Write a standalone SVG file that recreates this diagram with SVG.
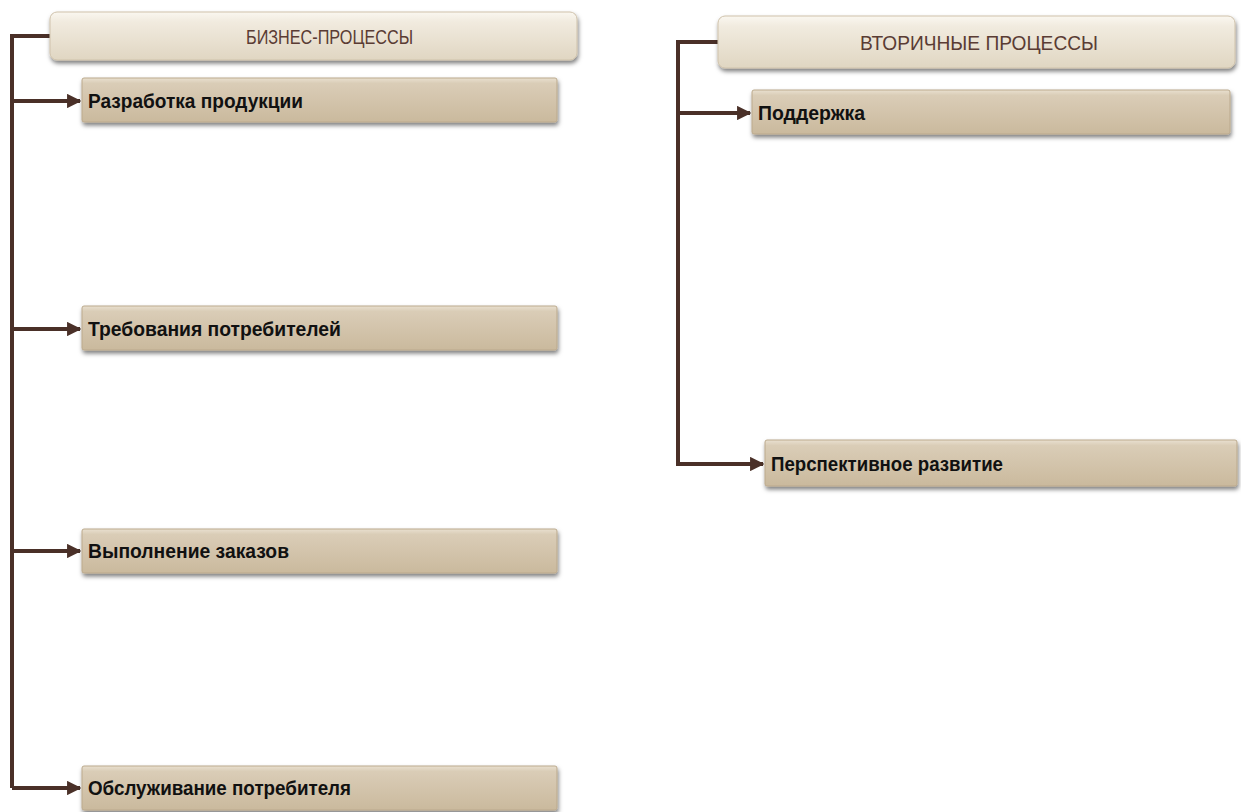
<svg xmlns="http://www.w3.org/2000/svg" width="1241" height="812" viewBox="0 0 1241 812">
<defs>
<linearGradient id="gBox" x1="0" y1="0" x2="0" y2="1">
<stop offset="0" stop-color="#e9e0d0"/>
<stop offset="0.12" stop-color="#dacdb7"/>
<stop offset="1" stop-color="#cab99d"/>
</linearGradient>
<linearGradient id="gHead" x1="0" y1="0" x2="0" y2="1">
<stop offset="0" stop-color="#faf7f0"/>
<stop offset="0.2" stop-color="#f1ebdf"/>
<stop offset="1" stop-color="#e0d6c2"/>
</linearGradient>
<filter id="sh" x="-5%" y="-20%" width="110%" height="160%">
<feDropShadow dx="1" dy="3" stdDeviation="2" flood-color="#000" flood-opacity="0.5"/>
</filter>
<marker id="arr" viewBox="0 0 10 10" refX="9" refY="5" markerWidth="3.6" markerHeight="3.6" orient="auto" markerUnits="strokeWidth">
<path d="M0,0 L10,5 L0,10 z" fill="#4a3028"/>
</marker>
</defs>
<style>
.box{fill:url(#gBox);stroke:#bba98c;stroke-width:1;filter:url(#sh)}
.head{fill:url(#gHead);stroke:#cfc2ab;stroke-width:1;filter:url(#sh)}
.lbl{font-family:"Liberation Sans Narrow","Liberation Sans",sans-serif;font-weight:bold;font-size:21px;fill:#111}
.htxt{font-family:"Liberation Sans Narrow","Liberation Sans",sans-serif;font-size:21px;fill:#5a3c34}
.ln{fill:none;stroke:#4a3028;stroke-width:4}
</style>
<rect width="1241" height="812" fill="#fff"/>
<g id="connectors">
<path class="ln" d="M50,36 H12 V788"/>
<path class="ln" d="M12,101 H80" marker-end="url(#arr)"/>
<path class="ln" d="M12,329 H80" marker-end="url(#arr)"/>
<path class="ln" d="M12,551 H80" marker-end="url(#arr)"/>
<path class="ln" d="M12,788 H80" marker-end="url(#arr)"/>
<path class="ln" d="M718,42 H678 V464 H763" marker-end="url(#arr)"/>
<path class="ln" d="M678,113 H750" marker-end="url(#arr)"/>
</g>
<g id="head1"><rect class="head" x="50" y="12" width="527" height="48" rx="7"/><text class="htxt" x="246" y="44" textLength="167" lengthAdjust="spacingAndGlyphs">БИЗНЕС-ПРОЦЕССЫ</text></g>
<g id="n1"><rect class="box" x="82" y="78" width="475" height="44" rx="2"/><text class="lbl" x="88" y="108" textLength="215" lengthAdjust="spacingAndGlyphs">Разработка продукции</text></g>
<g id="n2"><rect class="box" x="82" y="306" width="475" height="44" rx="2"/><text class="lbl" x="88" y="336" textLength="253" lengthAdjust="spacingAndGlyphs">Требования потребителей</text></g>
<g id="n3"><rect class="box" x="82" y="529" width="475" height="44" rx="2"/><text class="lbl" x="88" y="558" textLength="201" lengthAdjust="spacingAndGlyphs">Выполнение заказов</text></g>
<g id="n4"><rect class="box" x="82" y="766" width="475" height="44" rx="2"/><text class="lbl" x="88" y="795" textLength="263" lengthAdjust="spacingAndGlyphs">Обслуживание потребителя</text></g>
<g id="head2"><rect class="head" x="718" y="16" width="517" height="52" rx="7"/><text class="htxt" x="860" y="50" textLength="238" lengthAdjust="spacingAndGlyphs">ВТОРИЧНЫЕ ПРОЦЕССЫ</text></g>
<g id="n5"><rect class="box" x="752" y="90" width="478" height="44" rx="2"/><text class="lbl" x="758" y="120" textLength="107" lengthAdjust="spacingAndGlyphs">Поддержка</text></g>
<g id="n6"><rect class="box" x="765" y="440" width="472" height="46" rx="2"/><text class="lbl" x="771" y="471" textLength="232" lengthAdjust="spacingAndGlyphs">Перспективное развитие</text></g>
</svg>
